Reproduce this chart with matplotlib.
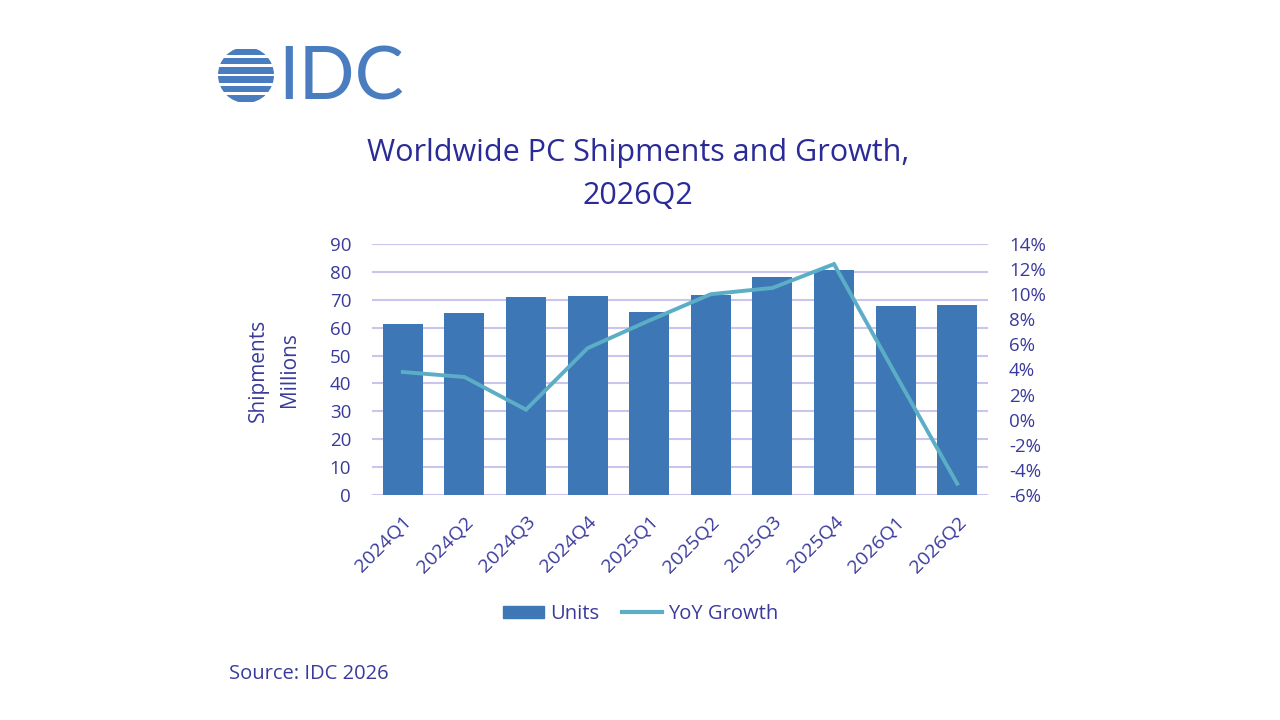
import matplotlib
matplotlib.use("Agg")
import matplotlib.pyplot as plt
from matplotlib.patches import Circle, Rectangle, Patch
from matplotlib.lines import Line2D
from matplotlib.ticker import FuncFormatter, MultipleLocator

quarters = ["2024Q1", "2024Q2", "2024Q3", "2024Q4", "2025Q1",
            "2025Q2", "2025Q3", "2025Q4", "2026Q1", "2026Q2"]
units = [61.2, 65.4, 71.0, 71.4, 65.7, 71.7, 78.3, 80.6, 67.6, 68.0]
yoy_growth = [3.8, 3.4, 0.8, 5.7, 7.9, 10.0, 10.5, 12.4, 3.6, -5.1]

BAR = "#3D77B6"
LINE = "#5BAEC6"
GRID = "#C9C5EE"
TXT = "#3A3A9C"
TITLE = "#2A2A98"
LOGO = "#4A7DC0"

plt.rcParams['font.family'] = ["Open Sans", "DejaVu Sans"]

W, H = 1280, 720
fig = plt.figure(figsize=(W / 100, H / 100), dpi=100)

def fx(px):
    return px / W

def fy(py):
    return 1 - py / H

left, right, top, bottom = 372, 988, 244, 495
ax = fig.add_axes([fx(left), fy(bottom), fx(right - left), (bottom - top) / H])
x = list(range(len(quarters)))
ax.bar(x, units, width=0.65, color=BAR, zorder=2, label="Units")
ax.set_xlim(-0.5, len(quarters) - 0.5)
ax.set_ylim(0, 90)
ax.yaxis.set_major_locator(MultipleLocator(10))
ax.grid(axis="y", color=GRID, linewidth=1.5, zorder=0)
ax.set_axisbelow(True)
for s in ax.spines.values():
    s.set_visible(False)
ax.tick_params(axis="y", length=0, pad=15, labelsize=13.5, labelcolor=TXT)
ax.tick_params(axis="x", length=0, pad=13, labelsize=14, labelcolor=TXT)
ax.set_xticks(x)
ax.set_xticklabels(quarters, rotation=45, ha="right", va="top", rotation_mode="anchor")

ax2 = ax.twinx()
ax2.plot(x, yoy_growth, color=LINE, linewidth=2.8, zorder=3, label="YoY Growth",
         solid_joinstyle="miter")
ax2.set_ylim(-6, 14)
ax2.yaxis.set_major_locator(MultipleLocator(2))
ax2.yaxis.set_major_formatter(FuncFormatter(lambda v, p: f"{v:.0f}%"))
for s in ax2.spines.values():
    s.set_visible(False)
ax2.tick_params(axis="y", length=0, pad=15, labelsize=13.5, labelcolor=TXT)

# y label
fig.text(fx(274), fy(370), "Shipments\nMillions", rotation=90, ha="center", va="center",
         fontsize=15, color=TXT, linespacing=1.65, multialignment="center")

# title
fig.text(fx(638), fy(153), "Worldwide PC Shipments and Growth,", ha="center", va="center",
         fontsize=22, color=TITLE)
fig.text(fx(638), fy(196), "2026Q2", ha="center", va="center",
         fontsize=22, color=TITLE)

# legend
handles = [Patch(facecolor=BAR, edgecolor=BAR), Line2D([0], [0], color=LINE, linewidth=3)]
fig.legend(handles, ["Units", "YoY Growth"], loc="center", bbox_to_anchor=(fx(641), fy(614)),
           ncol=2, frameon=False, fontsize=14.5, labelcolor=TXT, handlelength=2.0,
           handleheight=0.6, handletextpad=0.3, columnspacing=1.15)

# source
fig.text(fx(229), fy(674), "Source: IDC 2026", ha="left", va="center", fontsize=14.5, color=TXT)

# logo
fig.text(fx(278), fy(79), "IDC", ha="left", va="center", fontsize=53, color=LOGO,
         family=["Lato", "DejaVu Sans"])
cx, cy, r = 246, 75, 28
n = 6
stripe_h = 2 * r / n
for i in range(n):
    y0 = cy - r + i * stripe_h + 1.5
    rect = Rectangle((fx(cx - r - 2), fy(y0 + stripe_h - 3)), (2 * r + 4) / W, (stripe_h - 3) / H,
                     transform=fig.transFigure, facecolor=LOGO, edgecolor="none")
    fig.add_artist(rect)
    rect.set_clip_path(Circle((cx, H - cy), r, transform=None))

fig.savefig("out.png", dpi=100)
